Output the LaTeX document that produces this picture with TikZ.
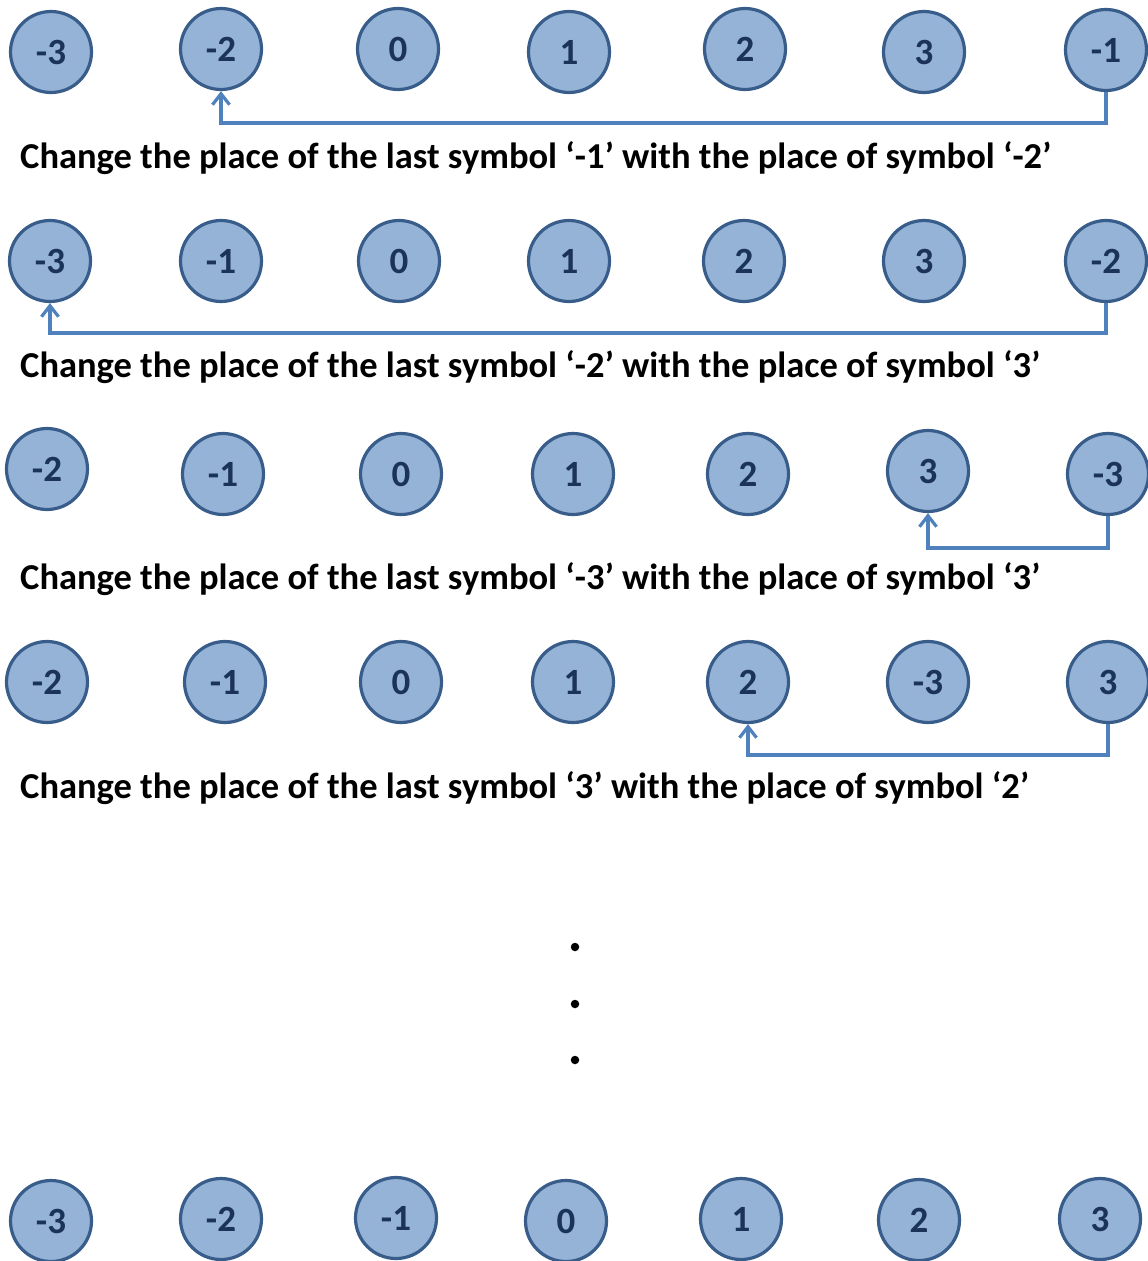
\documentclass[tikz,border=0pt]{standalone}
\usepackage{fontspec}
\setmainfont{Carlito}
\usetikzlibrary{arrows.meta}
\definecolor{cfill}{HTML}{95B3D7}
\definecolor{cdraw}{HTML}{385D8A}
\definecolor{cline}{HTML}{4F81BD}
\definecolor{ctext}{HTML}{1B3357}
\begin{document}
\begin{tikzpicture}[x=1pt,y=-1pt,
  sym/.style={circle,fill=cfill,draw=cdraw,line width=3.2pt,minimum size=81pt,inner sep=0pt,
    font=\fontsize{37}{37}\selectfont\bfseries,text=ctext},
  swap/.style={draw=cline,line width=3.3pt,-{Straight Barb[length=11pt,width=17pt,line width=3.2pt]}},
  caption/.style={anchor=base west,inner sep=0pt,font=\fontsize{36.5}{36.5}\selectfont\bfseries,text=black},
  dot/.style={circle,fill=black,minimum size=8.5pt,inner sep=0pt}]
\useasboundingbox (0,0) rectangle (1148,1261);
% row 1
\node[sym] (a1) at (51,52) {-3};
\node[sym] (a2) at (221,49) {-2};
\node[sym] (a3) at (398,49) {0};
\node[sym] (a4) at (569,52) {1};
\node[sym] (a5) at (745,49) {2};
\node[sym] (a6) at (924,52) {3};
\node[sym] (a7) at (1106,50) {-1};
\draw[swap] (a7.south) -- ++(0,31) -| (a2.south);
\node[caption] (t1) at (20,168) {Change the place of the last symbol ‘-1’ with the place of symbol ‘-2’};
% row 2
\node[sym] (b1) at (50,261) {-3};
\node[sym] (b2) at (221,261) {-1};
\node[sym] (b3) at (399,261) {0};
\node[sym] (b4) at (569,261) {1};
\node[sym] (b5) at (744,261) {2};
\node[sym] (b6) at (924,261) {3};
\node[sym] (b7) at (1106,261) {-2};
\draw[swap] (b7.south) -- ++(0,30) -| (b1.south);
\node[caption] (t2) at (20,377) {Change the place of the last symbol ‘-2’ with the place of symbol ‘3’};
% row 3
\node[sym] (c1) at (47,469) {-2};
\node[sym] (c2) at (223,474) {-1};
\node[sym] (c3) at (401,474) {0};
\node[sym] (c4) at (573,474) {1};
\node[sym] (c5) at (748,474) {2};
\node[sym] (c6) at (928,471) {3};
\node[sym] (c7) at (1108,474) {-3};
\draw[swap] (c7.south) -- ++(0,32) -| (c6.south);
\node[caption] (t3) at (20,589) {Change the place of the last symbol ‘-3’ with the place of symbol ‘3’};
% row 4
\node[sym] (d1) at (47,682) {-2};
\node[sym] (d2) at (225,682) {-1};
\node[sym] (d3) at (401,682) {0};
\node[sym] (d4) at (573,682) {1};
\node[sym] (d5) at (748,682) {2};
\node[sym] (d6) at (928,682) {-3};
\node[sym] (d7) at (1108,682) {3};
\draw[swap] (d7.south) -- ++(0,31) -| (d5.south);
\node[caption] (t4) at (20,798) {Change the place of the last symbol ‘3’ with the place of symbol ‘2’};
% dots
\node[dot] (p1) at (575,947) {};
\node[dot] (p2) at (575,1004) {};
\node[dot] (p3) at (575,1060) {};
% final row
\node[sym] (e1) at (51,1221) {-3};
\node[sym] (e2) at (221,1219) {-2};
\node[sym] (e3) at (396,1218) {-1};
\node[sym] (e4) at (566,1221) {0};
\node[sym] (e5) at (741,1219) {1};
\node[sym] (e6) at (919,1220) {2};
\node[sym] (e7) at (1100,1219) {3};
\end{tikzpicture}
\end{document}
